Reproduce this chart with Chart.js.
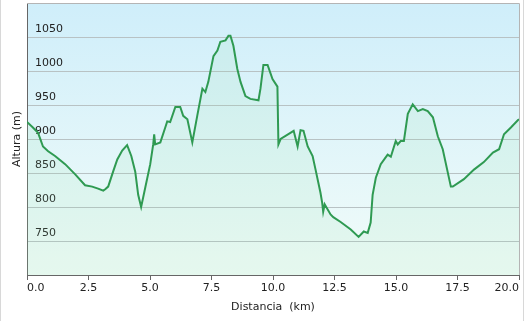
<!DOCTYPE html>
<html>
<head>
<meta charset="utf-8">
<script src="https://cdn.jsdelivr.net/npm/chart.js@4"></script>
<style>
  html, body { margin: 0; padding: 0; background: #fff; }
  canvas { display: block; }
</style>
</head>
<body>
<canvas id="perfil" width="525" height="321"></canvas>
<script>
// Perfil de altura: distancia (km) y altura (m)
const distancias = [
  0.00, 0.24, 0.45, 0.65, 0.86, 1.14, 1.55, 1.96, 2.36, 2.65, 2.89, 3.10, 3.18, 3.30,
  3.50, 3.67, 3.87, 4.07, 4.24, 4.40, 4.52, 4.64, 4.81, 5.01, 5.13, 5.17, 5.21, 5.42,
  5.62, 5.70, 5.82, 6.03, 6.23, 6.35, 6.52, 6.72, 6.92, 7.13, 7.25, 7.37, 7.58, 7.74,
  7.86, 8.07, 8.19, 8.27, 8.39, 8.55, 8.68, 8.88, 9.08, 9.41, 9.49, 9.61, 9.78, 9.98,
  10.18, 10.22, 10.31, 10.84, 11.00, 11.12, 11.24, 11.41, 11.61, 11.73, 11.93, 12.00,
  12.04, 12.10, 12.34, 12.45, 12.75, 13.16, 13.48, 13.69, 13.85, 13.97, 14.05, 14.18,
  14.38, 14.66, 14.79, 14.99, 15.07, 15.19, 15.32, 15.48, 15.68, 15.89, 16.09, 16.29,
  16.50, 16.70, 16.90, 17.23, 17.31, 17.76, 18.17, 18.57, 18.94, 19.19, 19.39, 19.67,
  19.96, 20.00
];
const alturas = [
  925, 917, 909, 889, 882, 875, 863, 848, 832, 830, 827, 824, 826, 830,
  852, 870, 883, 891, 875, 852, 818, 800, 829, 863, 892, 907, 892, 895,
  917, 926, 925, 947, 947, 934, 929, 895, 934, 974, 969, 984, 1022, 1030,
  1043, 1045, 1052, 1052, 1037, 1003, 984, 963, 959, 957, 974, 1009, 1009, 988,
  977, 892, 900, 912, 889, 913, 912, 889, 875, 855, 821, 806,
  793, 804, 789, 785, 778, 767, 756, 764, 762, 777, 818, 843,
  863, 877, 874, 897, 892, 897, 897, 937, 951, 941, 944, 941,
  932, 904, 885, 830, 830, 841, 855, 866, 880, 885, 907, 917,
  928, 929
];
const ticksX = [0, 2.5, 5, 7.5, 10, 12.5, 15, 17.5, 20];
const ticksY = [750, 800, 850, 900, 950, 1000, 1050];

const fuente = { family: "'DejaVu Sans', Verdana, sans-serif", size: 11 };

// Fondo degradado del área y marco
const fondo = {
  id: 'fondo',
  beforeDraw(chart) {
    const { ctx, chartArea: a } = chart;
    const g = ctx.createLinearGradient(0, a.top, 0, a.bottom);
    g.addColorStop(0, '#cfeefa');
    g.addColorStop(1, '#f2fcf9');
    ctx.save();
    ctx.fillStyle = g;
    ctx.fillRect(a.left, a.top, a.right - a.left, a.bottom - a.top);
    ctx.restore();
  },
  afterDraw(chart) {
    const { ctx, chartArea: a } = chart;
    ctx.save();
    ctx.strokeStyle = '#b4b4b4';
    ctx.lineWidth = 1;
    ctx.beginPath();
    ctx.moveTo(a.left, a.top + 0.5);
    ctx.lineTo(a.right + 0.5, a.top + 0.5);
    ctx.lineTo(a.right + 0.5, a.bottom);
    ctx.stroke();
    ctx.strokeStyle = '#d8d8d8';
    ctx.beginPath();
    ctx.moveTo(0.5, 0);
    ctx.lineTo(0.5, chart.height);
    ctx.moveTo(523.5, 0);
    ctx.lineTo(523.5, chart.height);
    ctx.stroke();
    ctx.restore();
  }
};

new Chart(document.getElementById('perfil'), {
  type: 'line',
  data: {
    datasets: [{
      data: distancias.map((d, i) => ({ x: d, y: alturas[i] })),
      borderColor: '#2f9a52',
      borderWidth: 2,
      backgroundColor: 'rgba(150, 225, 170, 0.13)',
      fill: 'start',
      pointRadius: 0,
      tension: 0
    }]
  },
  options: {
    responsive: false,
    animation: false,
    devicePixelRatio: 1,
    layout: { padding: { top: 3, right: 6, left: 0, bottom: 0 } },
    plugins: { legend: { display: false }, tooltip: { enabled: false } },
    scales: {
      x: {
        type: 'linear',
        min: 0,
        max: 20,
        afterFit(s) { s.height = 46; s.paddingLeft = 0; s.paddingRight = 0; },
        afterBuildTicks(s) { s.ticks = ticksX.map(v => ({ value: v })); },
        ticks: {
          color: '#222',
          font: fuente,
          padding: 2,
          align: 'inner',
          maxRotation: 0,
          autoSkip: false,
          callback: v => v.toFixed(1)
        },
        grid: { drawOnChartArea: false, drawTicks: true, tickLength: 5, tickColor: '#666' },
        border: { color: '#666', width: 1 },
        title: { display: true, text: 'Distancia  (km)', color: '#222', font: fuente, padding: { bottom: 7, top: 0 } }
      },
      y: {
        min: 700,
        max: 1100,
        afterFit(s) { s.width = 27; s.paddingTop = 0; s.paddingBottom = 0; },
        ticks: {
          stepSize: 50,
          mirror: true,
          padding: 8,
          labelOffset: -8,
          color: '#222',
          font: fuente,
          callback: v => ticksY.includes(v) ? String(v) : ''
        },
        grid: { color: '#b8c2c4', drawTicks: false },
        border: { color: '#666', width: 1 },
        title: { display: true, text: 'Altura (m)', color: '#222', font: fuente, padding: { top: 11, bottom: 0 } }
      }
    }
  },
  plugins: [fondo]
});
</script>
</body>
</html>
